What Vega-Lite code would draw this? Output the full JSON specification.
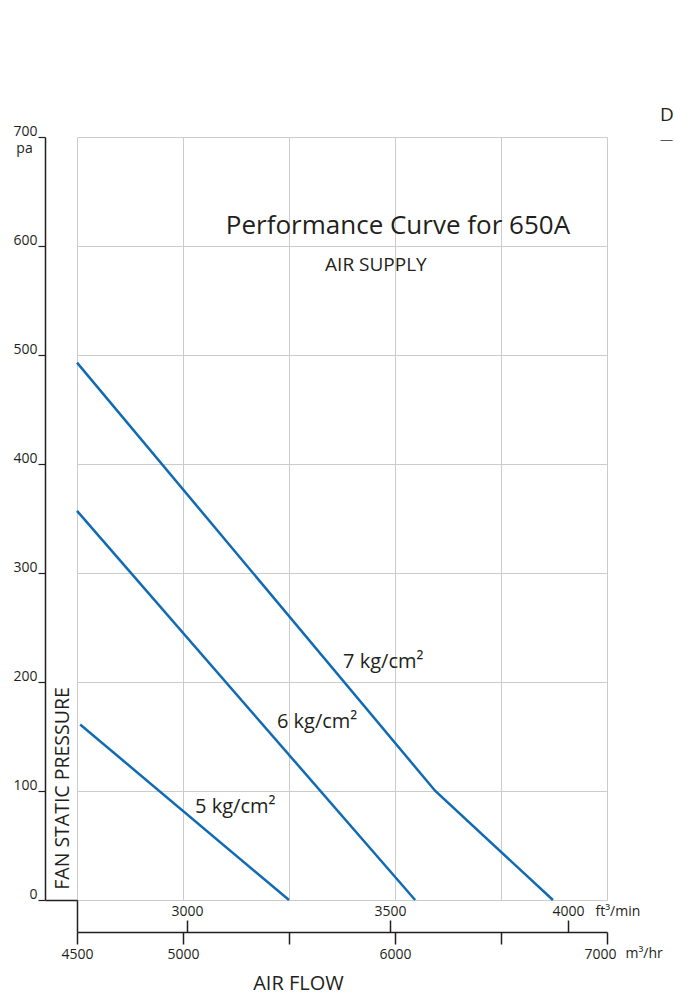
{
  "$schema": "https://vega.github.io/schema/vega-lite/v6.json",
  "autosize": {"type": "none"},
  "padding": {"left": 77, "top": 137, "right": 68, "bottom": 95},
  "width": 530,
  "height": 763,
  "background": "white",
  "config": {
    "view": {"stroke": null},
    "font": "Open Sans",
    "axis": {
      "labelFont": "Open Sans",
      "titleFont": "Open Sans",
      "labelColor": "#231f20",
      "titleColor": "#231f20",
      "domainColor": "#231f20",
      "tickColor": "#231f20",
      "titleFontWeight": "normal",
      "grid": false,
      "labelFlush": false,
      "labelOverlap": false
    },
    "text": {"font": "Open Sans", "color": "#231f20"}
  },
  "datasets": {
    "curves": [
      {"series": "7 kg/cm²", "flow": 4500, "pressure": 493},
      {"series": "7 kg/cm²", "flow": 6190, "pressure": 100},
      {"series": "7 kg/cm²", "flow": 6745, "pressure": 0},
      {"series": "6 kg/cm²", "flow": 4500, "pressure": 357},
      {"series": "6 kg/cm²", "flow": 6095, "pressure": 0},
      {"series": "5 kg/cm²", "flow": 4515, "pressure": 161},
      {"series": "5 kg/cm²", "flow": 5500, "pressure": 0}
    ],
    "labels": [
      {"label": "7 kg/cm²", "flow": 5755, "pressure": 218},
      {"label": "6 kg/cm²", "flow": 5443, "pressure": 163},
      {"label": "5 kg/cm²", "flow": 5057, "pressure": 85}
    ],
    "notes": [
      {"kind": "title", "text": "Performance Curve for 650A", "flow": 6014, "pressure": 618},
      {"kind": "subtitle", "text": "AIR SUPPLY", "flow": 5910, "pressure": 583},
      {"kind": "corner", "text": "D", "flow": 7250, "pressure": 720},
      {"kind": "dash", "text": "—", "flow": 7250, "pressure": 697}
    ]
  },
  "layer": [
    {
      "data": {"name": "curves"},
      "mark": {"type": "line", "color": "#116bb4", "strokeWidth": 2.5},
      "encoding": {
        "x": {
          "field": "flow", "type": "quantitative",
          "scale": {"domain": [4500, 7000], "nice": false, "zero": false},
          "axis": {
            "orient": "bottom", "offset": 0,
            "values": [4500, 5000, 5500, 6000, 6500, 7000],
            "grid": true, "gridColor": "#cccccc", "gridWidth": 1,
            "domain": false, "ticks": false, "labels": false, "title": null
          }
        },
        "y": {
          "field": "pressure", "type": "quantitative",
          "scale": {"domain": [0, 700], "nice": false, "zero": false},
          "axis": {
            "orient": "left", "offset": 0,
            "values": [0, 100, 200, 300, 400, 500, 600, 700],
            "grid": true, "gridColor": "#cccccc", "gridWidth": 1,
            "domain": false, "ticks": false, "labels": false, "title": null
          }
        },
        "detail": {"field": "series"}
      }
    },
    {
      "data": {"name": "labels"},
      "mark": {"type": "text", "fontSize": 20, "align": "left", "baseline": "middle"},
      "encoding": {
        "text": {"field": "label"},
        "x": {
          "field": "flow", "type": "quantitative",
          "scale": {"domain": [4500, 7000], "nice": false, "zero": false},
          "axis": {
            "orient": "bottom", "offset": 32,
            "values": [4500, 5000, 5500, 6000, 6500, 7000],
            "labelExpr": "datum.value == 5500 || datum.value == 6500 ? '' : format(datum.value, 'd')",
            "labelOffset": {"condition": {"test": "datum.value == 7000", "value": -7}, "value": 0},
            "domainWidth": 1.5, "tickWidth": 1.5, "tickSize": 12,
            "labelFontSize": 14, "labelPadding": 3,
            "title": "m³/hr", "titleFontSize": 14, "titleX": 548, "titleY": 21,
            "titleAlign": "left", "titleBaseline": "middle", "titleAngle": 0
          }
        },
        "y": {
          "field": "pressure", "type": "quantitative",
          "scale": {"domain": [0, 700], "nice": false, "zero": false},
          "axis": {
            "orient": "left", "offset": 32,
            "values": [0, 100, 200, 300, 400, 500, 600, 700],
            "domainWidth": 1.5, "tickWidth": 1.2, "tickSize": 7,
            "labelFontSize": 14, "labelPadding": 1, "labelBaseline": "alphabetic",
            "labelOffset": -2, "labelAlign": "right",
            "title": "pa", "titleFontSize": 14, "titleAngle": 0,
            "titleX": -21, "titleY": 15, "titleAlign": "center", "titleBaseline": "alphabetic"
          }
        }
      }
    },
    {
      "data": {"name": "notes"},
      "transform": [{"filter": "datum.kind == 'title'"}],
      "mark": {"type": "text", "fontSize": 26, "align": "center", "baseline": "middle"},
      "encoding": {
        "text": {"field": "text"},
        "x": {
          "field": "flow", "type": "quantitative",
          "scale": {"domain": [4500, 7000], "nice": false, "zero": false},
          "axis": {
            "orient": "top", "offset": -795,
            "values": [5019, 5976, 6816],
            "labelExpr": "datum.value < 5500 ? '3000' : (datum.value < 6500 ? '3500' : '4000')",
            "domain": false, "tickWidth": 1.5, "tickSize": 12,
            "labelFontSize": 14, "labelPadding": 2,
            "title": "ft³/min", "titleFontSize": 14, "titleX": 518, "titleY": -21,
            "titleAlign": "left", "titleBaseline": "middle", "titleAngle": 0
          }
        },
        "y": {
          "field": "pressure", "type": "quantitative",
          "scale": {"domain": [0, 700], "nice": false, "zero": false},
          "axis": {
            "orient": "left", "offset": 0,
            "values": [0],
            "domain": false, "labels": false, "tickWidth": 1.5, "tickSize": 32,
            "title": "FAN STATIC PRESSURE", "titleFontSize": 19.5,
            "titleX": -15, "titleY": 651, "titleAngle": 270,
            "titleAlign": "center", "titleBaseline": "middle"
          }
        }
      }
    },
    {
      "data": {"name": "notes"},
      "transform": [{"filter": "datum.kind == 'subtitle'"}],
      "mark": {"type": "text", "fontSize": 19, "align": "center", "baseline": "middle"},
      "encoding": {
        "text": {"field": "text"},
        "x": {
          "field": "flow", "type": "quantitative",
          "scale": {"domain": [4500, 7000], "nice": false, "zero": false},
          "axis": {
            "orient": "bottom", "offset": 0,
            "values": [4500],
            "domain": false, "labels": false, "tickWidth": 1.5, "tickSize": 32,
            "title": "AIR FLOW", "titleFontSize": 20,
            "titleX": 221, "titleY": 83, "titleAngle": 0,
            "titleAlign": "center", "titleBaseline": "middle"
          }
        },
        "y": {
          "field": "pressure", "type": "quantitative",
          "scale": {"domain": [0, 700], "nice": false, "zero": false},
          "axis": null
        }
      }
    },
    {
      "data": {"name": "notes"},
      "transform": [{"filter": "datum.kind == 'corner'"}],
      "mark": {"type": "text", "fontSize": 19, "align": "left", "baseline": "middle"},
      "encoding": {
        "text": {"field": "text"},
        "x": {
          "field": "flow", "type": "quantitative",
          "scale": {"domain": [4500, 7000], "nice": false, "zero": false},
          "axis": null
        },
        "y": {
          "field": "pressure", "type": "quantitative",
          "scale": {"domain": [0, 700], "nice": false, "zero": false},
          "axis": null
        }
      }
    },
    {
      "data": {"name": "notes"},
      "transform": [{"filter": "datum.kind == 'dash'"}],
      "mark": {"type": "text", "fontSize": 13, "align": "left", "baseline": "middle", "color": "#555555"},
      "encoding": {
        "text": {"field": "text"},
        "x": {
          "field": "flow", "type": "quantitative",
          "scale": {"domain": [4500, 7000], "nice": false, "zero": false},
          "axis": null
        },
        "y": {
          "field": "pressure", "type": "quantitative",
          "scale": {"domain": [0, 700], "nice": false, "zero": false},
          "axis": null
        }
      }
    }
  ],
  "resolve": {"axis": {"x": "independent", "y": "independent"}}
}
